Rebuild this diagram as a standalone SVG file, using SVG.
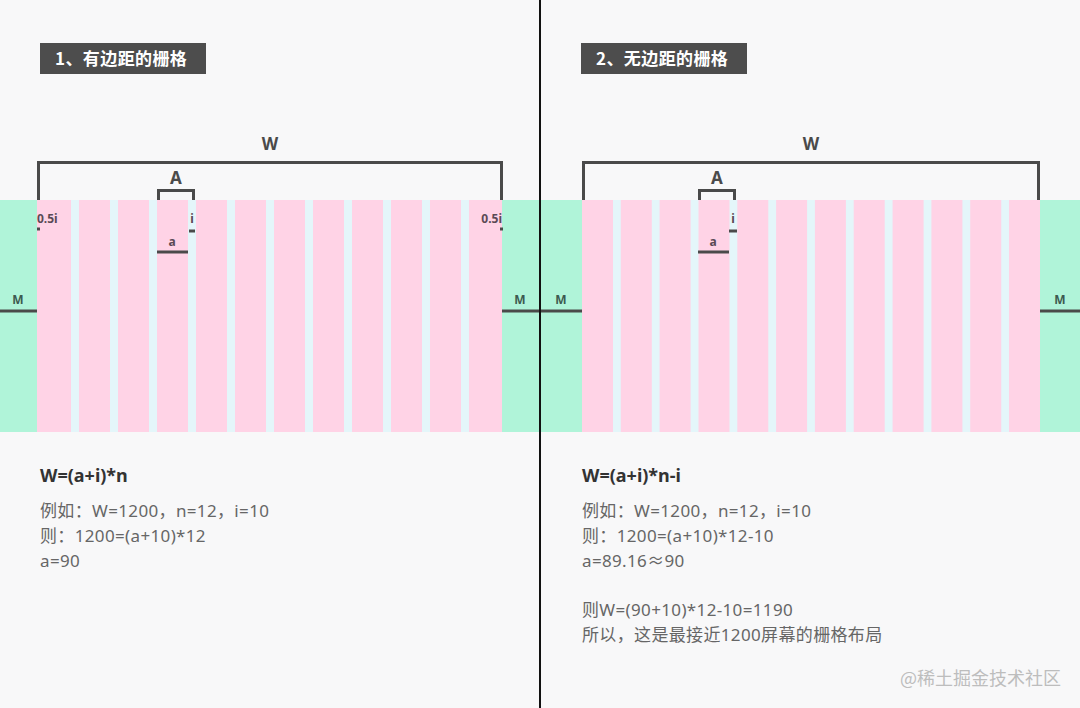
<svg xmlns="http://www.w3.org/2000/svg" width="1080" height="708" viewBox="0 0 1080 708">
<style>
.bg{fill:#f8f8f9}
.gap{fill:#e4f6fa}
.col{fill:#ffd3e6}
.mar{fill:#b0f4d9}
.ln{stroke:#4a4a4a;stroke-width:3;fill:none}
.lbl{font-family:"Noto Sans","Noto Sans CJK SC",sans-serif;font-weight:bold;fill:#4a4a4a}
.big{font-size:17px}
.sm{font-size:12px;fill:#5a4a55}
.ttl{font-family:"Noto Sans CJK SC","Noto Sans",sans-serif;font-weight:bold;font-size:17px;letter-spacing:0.4px;fill:#ffffff}
.f{font-family:"Noto Sans","Noto Sans CJK SC",sans-serif;font-weight:bold;font-size:18px;fill:#333333}
.t{font-family:"Noto Sans","Noto Sans CJK SC",sans-serif;font-size:17px;letter-spacing:0.35px;fill:#666666}
.wm{font-family:"Noto Sans CJK SC","Noto Sans",sans-serif;font-size:18px;fill:#bdbdbd}
</style>
<rect class="bg" x="0" y="0" width="1080" height="708"/>

<g id="panel1">
  <g id="title1">
    <rect x="40" y="43" width="166" height="31" fill="#4d4d4d"/>
    <text class="ttl" x="55" y="65">1、有边距的栅格</text>
  </g>
  <g id="grid1">
    <rect class="mar" x="0" y="200" width="37" height="232"/>
    <rect class="mar" x="502" y="200" width="38" height="232"/>
    <rect class="gap" x="37" y="200" width="465" height="232"/>
    <rect class="col" x="37" y="200" width="34" height="232"/>
    <rect class="col" x="79" y="200" width="31" height="232"/>
    <rect class="col" x="118" y="200" width="31" height="232"/>
    <rect class="col" x="157" y="200" width="31" height="232"/>
    <rect class="col" x="196" y="200" width="31" height="232"/>
    <rect class="col" x="235" y="200" width="31" height="232"/>
    <rect class="col" x="274" y="200" width="31" height="232"/>
    <rect class="col" x="313" y="200" width="31" height="232"/>
    <rect class="col" x="352" y="200" width="31" height="232"/>
    <rect class="col" x="391" y="200" width="31" height="232"/>
    <rect class="col" x="430" y="200" width="31" height="232"/>
    <rect class="col" x="469" y="200" width="33" height="232"/>
  </g>
  <g id="dims1">
    <path class="ln" d="M38.5,200 V162.5 H501.5 V200"/>
    <text class="lbl big" x="270" y="150" text-anchor="middle">W</text>
    <path class="ln" d="M158.5,200 V190.5 H193.5 V200"/>
    <text class="lbl big" x="176" y="184" text-anchor="middle">A</text>
    <line class="ln" x1="189" y1="231" x2="195" y2="231"/>
    <text class="lbl sm" x="192" y="223" text-anchor="middle">i</text>
    <line class="ln" x1="157" y1="252" x2="188" y2="252"/>
    <text class="lbl sm" x="172" y="246" text-anchor="middle">a</text>
    <line class="ln" x1="37" y1="229" x2="40" y2="229"/>
    <text class="lbl sm" x="37" y="223">0.5i</text>
    <line class="ln" x1="500" y1="229" x2="503" y2="229"/>
    <text class="lbl sm" x="502" y="223" text-anchor="end">0.5i</text>
    <line class="ln" x1="0" y1="311" x2="37" y2="311"/>
    <text class="lbl sm" x="18" y="304" text-anchor="middle" style="fill:#3d5a50">M</text>
    <line class="ln" x1="502" y1="311" x2="540" y2="311"/>
    <text class="lbl sm" x="520" y="304" text-anchor="middle" style="fill:#3d5a50">M</text>
  </g>
  <g id="text1">
    <text class="f" x="40" y="482">W=(a+i)*n</text>
    <text class="t" x="40" y="517">例如：W=1200，n=12，i=10</text>
    <text class="t" x="40" y="542">则：1200=(a+10)*12</text>
    <text class="t" x="40" y="567">a=90</text>
  </g>
</g>

<g id="panel2">
  <g id="title2">
    <rect x="581" y="43" width="166" height="31" fill="#4d4d4d"/>
    <text class="ttl" x="596" y="65">2、无边距的栅格</text>
  </g>
  <g id="grid2">
    <rect class="mar" x="540" y="200" width="42" height="232"/>
    <rect class="mar" x="1040" y="200" width="40" height="232"/>
    <rect class="gap" x="582" y="200" width="458" height="232"/>
    <rect class="col" x="582" y="200" width="31" height="232"/>
    <rect class="col" x="620.8" y="200" width="31" height="232"/>
    <rect class="col" x="659.6" y="200" width="31" height="232"/>
    <rect class="col" x="698.5" y="200" width="31" height="232"/>
    <rect class="col" x="737.3" y="200" width="31" height="232"/>
    <rect class="col" x="776.1" y="200" width="31" height="232"/>
    <rect class="col" x="814.9" y="200" width="31" height="232"/>
    <rect class="col" x="853.7" y="200" width="31" height="232"/>
    <rect class="col" x="892.6" y="200" width="31" height="232"/>
    <rect class="col" x="931.4" y="200" width="31" height="232"/>
    <rect class="col" x="970.2" y="200" width="31" height="232"/>
    <rect class="col" x="1009" y="200" width="31" height="232"/>
  </g>
  <g id="dims2">
    <path class="ln" d="M583.5,200 V162.5 H1038.5 V200"/>
    <text class="lbl big" x="811" y="150" text-anchor="middle">W</text>
    <path class="ln" d="M699.5,200 V190.5 H734.5 V200"/>
    <text class="lbl big" x="717" y="184" text-anchor="middle">A</text>
    <line class="ln" x1="729" y1="231" x2="737" y2="231"/>
    <text class="lbl sm" x="733" y="223" text-anchor="middle">i</text>
    <line class="ln" x1="698" y1="252" x2="729" y2="252"/>
    <text class="lbl sm" x="713" y="246" text-anchor="middle">a</text>
    <line class="ln" x1="540" y1="311" x2="582" y2="311"/>
    <text class="lbl sm" x="561" y="304" text-anchor="middle" style="fill:#3d5a50">M</text>
    <line class="ln" x1="1040" y1="311" x2="1080" y2="311"/>
    <text class="lbl sm" x="1060" y="304" text-anchor="middle" style="fill:#3d5a50">M</text>
  </g>
  <g id="text2">
    <text class="f" x="582" y="482">W=(a+i)*n-i</text>
    <text class="t" x="582" y="517">例如：W=1200，n=12，i=10</text>
    <text class="t" x="582" y="542">则：1200=(a+10)*12-10</text>
    <text class="t" x="582" y="567">a=89.16≈90</text>
    <text class="t" x="582" y="616">则W=(90+10)*12-10=1190</text>
    <text class="t" x="582" y="641">所以，这是最接近1200屏幕的栅格布局</text>
  </g>
</g>

<g id="divider">
  <line x1="540" y1="0" x2="540" y2="708" stroke="#111111" stroke-width="2"/>
</g>
<text class="wm" x="900" y="685">@稀土掘金技术社区</text>
</svg>
